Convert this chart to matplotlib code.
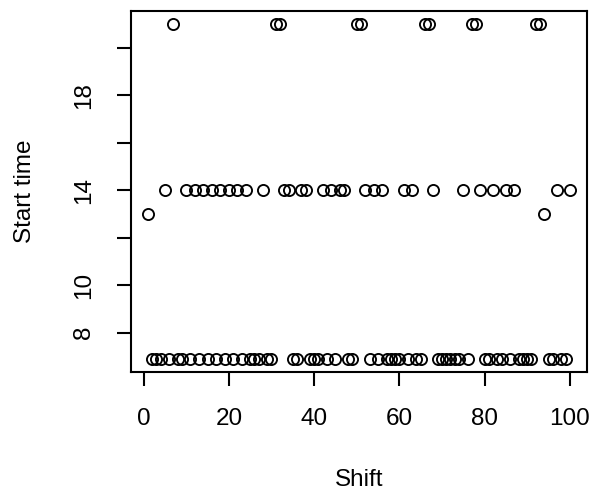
import numpy as np
import matplotlib
matplotlib.use("Agg")
import matplotlib.pyplot as plt

plt.rcParams['font.family'] = ['Liberation Sans', 'DejaVu Sans']

# shifts by start time (hours)
shifts_21 = [7, 31, 32, 50, 51, 66, 67, 77, 78, 92, 93]
shifts_13 = [1, 94]
shifts_14 = [5, 10, 12, 14, 16, 18, 20, 22, 24, 28, 33, 34, 37, 38, 42, 44,
             46, 47, 52, 54, 56, 61, 63, 68, 75, 79, 82, 85, 87, 97, 100]
early_time = 6.9

shift = np.arange(1, 101)
start = np.full(len(shift), early_time)
for s in shifts_14:
    start[s - 1] = 14
for s in shifts_13:
    start[s - 1] = 13
for s in shifts_21:
    start[s - 1] = 21

xticks = [0, 20, 40, 60, 80, 100]
yticks = [8, 10, 12, 14, 16, 18, 20]
ytick_labels = ["8", "10", "", "14", "", "18", ""]

fig = plt.figure(figsize=(6.03, 4.99), dpi=100)
ax = fig.add_axes([0.2172, 0.2539, 0.7558, 0.7247])

ax.plot(shift, start, linestyle="none", marker="o", markersize=8.0,
        markerfacecolor="none", markeredgecolor="black", markeredgewidth=1.35)

# R-style 4% padding
xr = shift.max() - shift.min()
yr = start.max() - start.min()
ax.set_xlim(shift.min() - 0.04 * xr, shift.max() + 0.04 * xr)
ax.set_ylim(start.min() - 0.04 * yr, start.max() + 0.04 * yr)

ax.set_xticks(xticks)
ax.set_xticklabels([str(t) for t in xticks])
ax.set_yticks(yticks)
ax.set_yticklabels(ytick_labels, rotation=90, va="center")

for sp in ax.spines.values():
    sp.set_linewidth(1.5)
ax.tick_params(axis="both", direction="out", length=10, width=1.5,
               labelsize=17.5, pad=16)

ax.set_xlabel("Shift", fontsize=17.5, va="center")
ax.xaxis.set_label_coords(0.5, -0.298)
ax.set_ylabel("Start time", fontsize=17.5, va="center")
ax.yaxis.set_label_coords(-0.2326, 0.5)

fig.savefig("out.png", dpi=100)
